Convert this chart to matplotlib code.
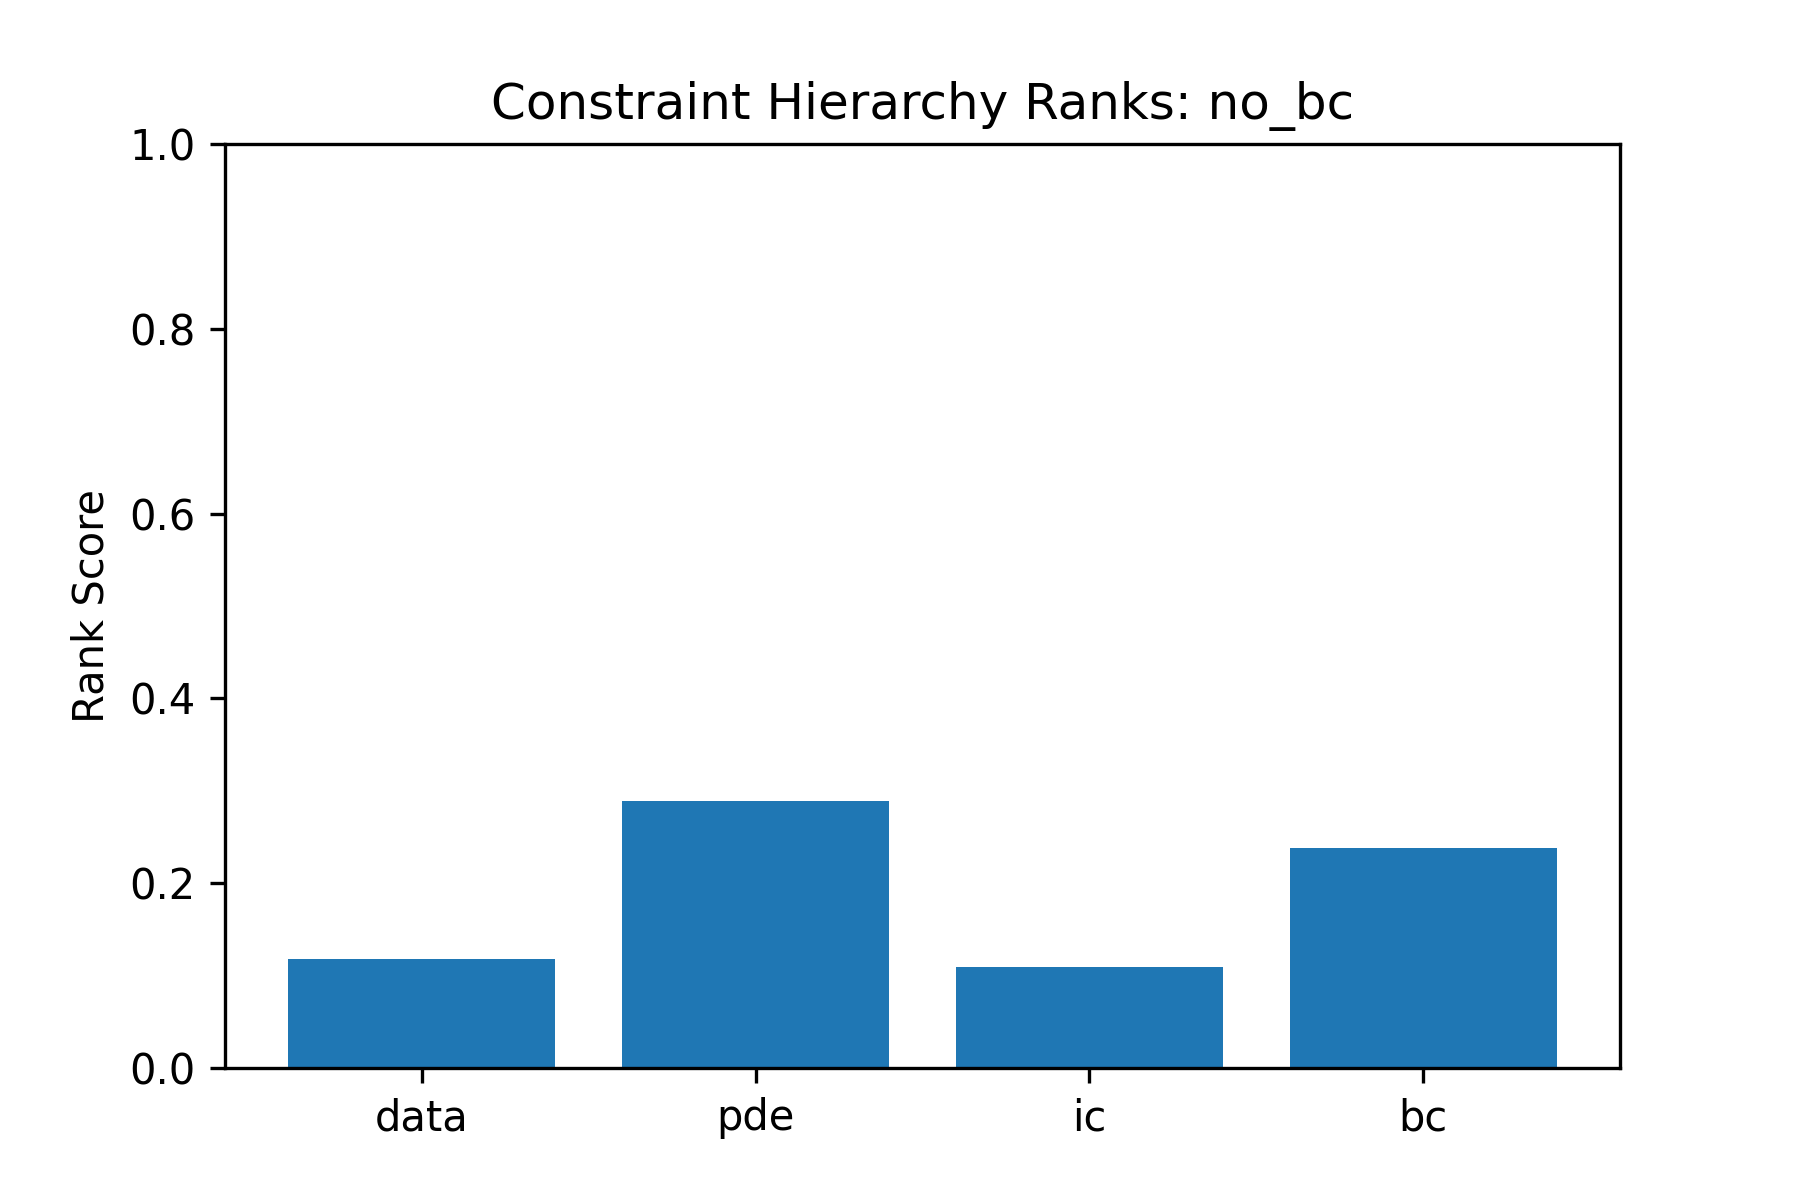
import matplotlib
matplotlib.use("Agg")
import matplotlib.pyplot as plt

categories = ["data", "pde", "ic", "bc"]
scores = [0.118, 0.289, 0.109, 0.238]

fig, ax = plt.subplots(figsize=(6, 4), dpi=300)
ax.bar(categories, scores, color="#1f77b4")
ax.set_ylim(0, 1.0)
ax.set_ylabel("Rank Score")
ax.set_title("Constraint Hierarchy Ranks: no_bc")
fig.savefig("out.png", dpi=300)
